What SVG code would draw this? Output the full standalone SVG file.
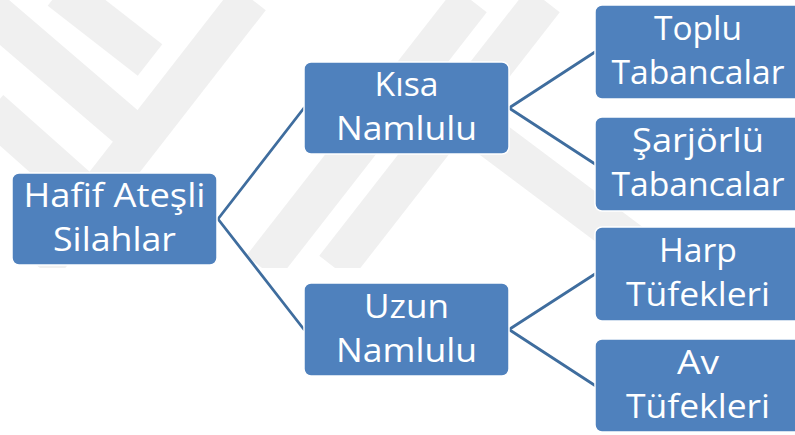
<svg xmlns="http://www.w3.org/2000/svg" width="795" height="435" viewBox="0 0 795 435">
<defs>
<clipPath id="wm"><rect x="0" y="0" width="795" height="268"/></clipPath>
<style>
.node rect{fill:#4F81BD;stroke:#ffffff;stroke-width:1.5}
.node text{fill:#ffffff;font-family:"Open Sans","Noto Sans","DejaVu Sans",sans-serif;font-size:33px;text-anchor:middle}
.conn line{stroke:#3F6D9E;stroke-width:2.8;stroke-linecap:round}
.wm line{stroke:#f0f0f0;stroke-width:40;stroke-linecap:butt}
</style>
</defs>
<rect x="0" y="0" width="795" height="435" fill="#ffffff"/>
<g class="wm" clip-path="url(#wm)">
<line x1="335" y1="268" x2="544" y2="0"/>
<line x1="262" y1="268" x2="471" y2="0"/>
<line x1="40" y1="268" x2="250" y2="-2"/>
<line x1="-10" y1="10" x2="130" y2="130"/>
<line x1="-10" y1="110" x2="80" y2="190"/>
<line x1="60" y1="-10" x2="150" y2="60"/>
<line x1="440" y1="100" x2="640" y2="250"/>
</g>
<g class="conn">
<line x1="218" y1="219" x2="304" y2="108"/>
<line x1="218" y1="219" x2="304" y2="329.5"/>
<line x1="509" y1="108" x2="595" y2="52"/>
<line x1="509" y1="108" x2="595" y2="164"/>
<line x1="509" y1="329.5" x2="595" y2="274"/>
<line x1="509" y1="329.5" x2="595" y2="385.5"/>
</g>
<g id="hafif" class="node">
<rect x="12" y="173" width="205" height="92" rx="7"/>
<text x="114.5" y="206.5" textLength="182" lengthAdjust="spacingAndGlyphs">Hafif Ateşli</text>
<text x="114.5" y="250.5" textLength="123" lengthAdjust="spacingAndGlyphs">Silahlar</text>
</g>
<g id="kisa" class="node">
<rect x="304" y="62" width="205" height="92" rx="7"/>
<text x="406.5" y="96" textLength="64" lengthAdjust="spacingAndGlyphs">Kısa</text>
<text x="406.5" y="140" textLength="141" lengthAdjust="spacingAndGlyphs">Namlulu</text>
</g>
<g id="uzun" class="node">
<rect x="304" y="283" width="205" height="93" rx="7"/>
<text x="406.5" y="317.5" textLength="85" lengthAdjust="spacingAndGlyphs">Uzun</text>
<text x="406.5" y="361.5" textLength="141" lengthAdjust="spacingAndGlyphs">Namlulu</text>
</g>
<g id="toplu" class="node">
<rect x="595" y="5" width="206" height="94" rx="7"/>
<text x="698" y="40" textLength="88" lengthAdjust="spacingAndGlyphs">Toplu</text>
<text x="698" y="84" textLength="173" lengthAdjust="spacingAndGlyphs">Tabancalar</text>
</g>
<g id="sarjorlu" class="node">
<rect x="595" y="117" width="206" height="94" rx="7"/>
<text x="698" y="152" textLength="132" lengthAdjust="spacingAndGlyphs">Şarjörlü</text>
<text x="698" y="196" textLength="173" lengthAdjust="spacingAndGlyphs">Tabancalar</text>
</g>
<g id="harp" class="node">
<rect x="595" y="227" width="206" height="94" rx="7"/>
<text x="698" y="262" textLength="78" lengthAdjust="spacingAndGlyphs">Harp</text>
<text x="698" y="306" textLength="144" lengthAdjust="spacingAndGlyphs">Tüfekleri</text>
</g>
<g id="av" class="node">
<rect x="595" y="339" width="206" height="93" rx="7"/>
<text x="698" y="373.5" textLength="42" lengthAdjust="spacingAndGlyphs">Av</text>
<text x="698" y="417.5" textLength="144" lengthAdjust="spacingAndGlyphs">Tüfekleri</text>
</g>
</svg>
